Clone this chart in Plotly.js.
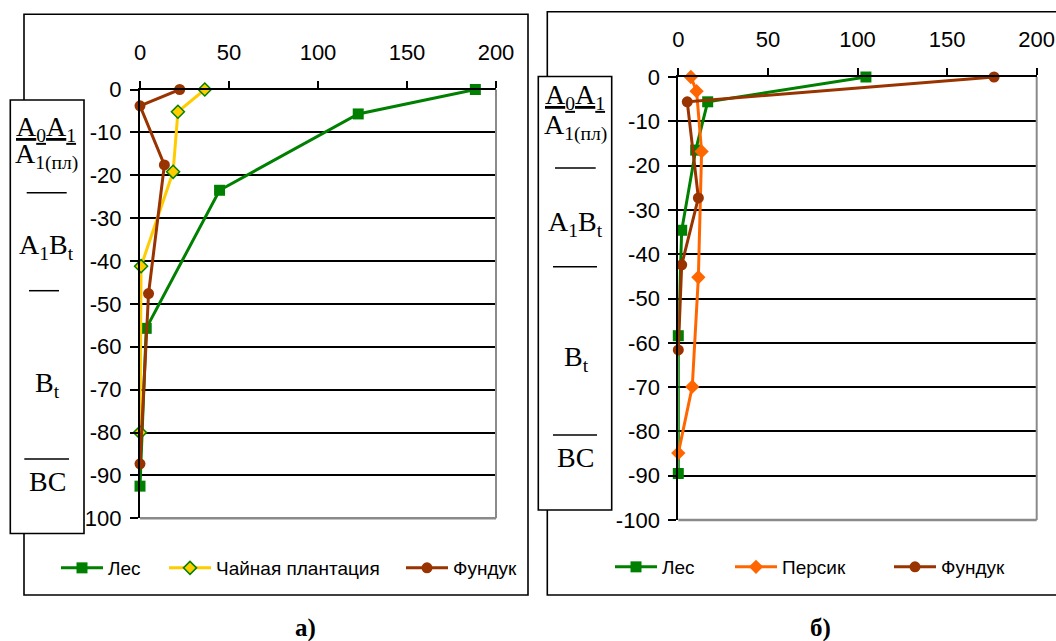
<!DOCTYPE html>
<html><head><meta charset="utf-8">
<script src="https://cdn.plot.ly/plotly-3.0.1.min.js"></script>
<style>html,body{margin:0;padding:0;background:#fff;} #chart{width:1056px;height:641px;}</style>
</head><body><div id="chart"></div>
<script>
// ---- Panel а) ----
const lesA_x      = [188.4, 122.6, 44.7, 3.5, 0];
const lesA_depth  = [0, -5.7, -23.5, -55.7, -92.5];
const teaA_x      = [36.4, 21.3, 18.6, 0.6, 0];
const teaA_depth  = [0, -5.2, -19.2, -41.2, -80];
const hazA_x      = [22.3, 0, 13.7, 4.8, 0];
const hazA_depth  = [0, -3.8, -17.6, -47.6, -87.3];
// ---- Panel б) ----
const lesB_x      = [104.7, 16.4, 9.7, 1.9, 0, 0];
const lesB_depth  = [0, -5.6, -16.5, -34.6, -58.4, -89.5];
const peachB_x    = [7, 10.2, 13, 11.2, 7.8, 0];
const peachB_depth= [0, -3.2, -16.8, -45.2, -69.9, -84.9];
const hazB_x      = [176.2, 5, 11.2, 1.9, 0];
const hazB_depth  = [0, -5.6, -27.3, -42.4, -61.6];

const namesA = ['Лес', 'Чайная плантация', 'Фундук'];
const namesB = ['Лес', 'Персик', 'Фундук'];
const xTickVals = [0, 50, 100, 150, 200];
const xTickText = ['0', '50', '100', '150', '200'];
const yTickVals = [0, -10, -20, -30, -40, -50, -60, -70, -80, -90, -100];
const yTickText = ['0', '-10', '-20', '-30', '-40', '-50', '-60', '-70', '-80', '-90', '-100'];
const captions = ['а)', 'б)'];

const W = 1056, H = 641;
const px = v => v / W;
const py = v => 1 - v / H;

const GREEN = '#008000', YELLOW = '#FFCC00', BROWN = '#993300', ORANGE = '#FF6600';

function tr(x, y, name, color, symbol, size, xa, ya, leg, edge) {
  return {
    type: 'scatter', mode: 'lines+markers', x: x, y: y, name: name,
    xaxis: xa, yaxis: ya, legend: leg, cliponaxis: false,
    line: {color: color, width: 3},
    marker: {symbol: symbol, size: size, color: color,
             line: {color: edge || color, width: edge ? 1.5 : 0}}
  };
}

const data = [
  tr(lesA_x, lesA_depth, namesA[0], GREEN, 'square', 11, 'x', 'y', 'legend'),
  tr(teaA_x, teaA_depth, namesA[1], YELLOW, 'diamond', 10, 'x', 'y', 'legend2', GREEN),
  tr(hazA_x, hazA_depth, namesA[2], BROWN, 'circle', 11, 'x', 'y', 'legend3'),
  tr(lesB_x, lesB_depth, namesB[0], GREEN, 'square', 11, 'x2', 'y2', 'legend4'),
  tr(peachB_x, peachB_depth, namesB[1], ORANGE, 'diamond', 11, 'x2', 'y2', 'legend5'),
  tr(hazB_x, hazB_depth, namesB[2], BROWN, 'circle', 11, 'x2', 'y2', 'legend6')
];

const tickFont = {family: 'Liberation Sans', size: 22, color: '#000'};
function xax(dom, anchor) {
  return {domain: dom, anchor: anchor, side: 'top', range: [0, 200], tickvals: xTickVals, ticktext: xTickText,
    ticks: 'outside', ticklen: 7, tickwidth: 2, tickcolor: '#000', showline: true, linecolor: '#000', linewidth: 2,
    showgrid: false, zeroline: false, tickfont: tickFont, ticklabelstandoff: 12, fixedrange: true};
}
function yax(dom, anchor) {
  return {domain: dom, anchor: anchor, range: [-100, 0], tickvals: yTickVals, ticktext: yTickText,
    ticks: 'outside', ticklen: 8, tickwidth: 2, tickcolor: '#000', showline: true, linecolor: '#000', linewidth: 2,
    showgrid: true, gridcolor: '#000', gridwidth: 2, zeroline: false, tickfont: tickFont, ticklabelstandoff: 4, fixedrange: true};
}

function leg(xpx, ypx) {
  return {x: px(xpx), y: py(ypx), xanchor: 'left', yanchor: 'middle', orientation: 'h',
    bgcolor: 'rgba(0,0,0,0)', borderwidth: 0, itemwidth: 42,
    font: {family: 'Liberation Sans', size: 19, color: '#000'}};
}

const serif = 'Liberation Serif';
function txt(xpx, ypx, text, size) {
  return {xref: 'paper', yref: 'paper', x: px(xpx), y: py(ypx), xanchor: 'center', yanchor: 'middle',
    text: text, showarrow: false, font: {family: serif, size: size, color: '#000'}};
}
function hline(x0, x1, y) {
  return {type: 'line', xref: 'paper', yref: 'paper', x0: px(x0), x1: px(x1), y0: py(y), y1: py(y),
    line: {color: '#000', width: 1.5}, layer: 'above'};
}
function rect(x0, x1, y0, y1, fill, layer) {
  return {type: 'rect', xref: 'paper', yref: 'paper', x0: px(x0), x1: px(x1), y0: py(y1), y1: py(y0),
    line: {color: '#000', width: 1.6}, fillcolor: fill, layer: layer};
}
function border(xr, yr) {
  return [
    {type: 'line', xref: xr + ' domain', yref: yr + ' domain', x0: 0, x1: 1, y0: 0, y1: 0, line: {color: '#8a8a8a', width: 2.4}, layer: 'above'},
    {type: 'line', xref: xr + ' domain', yref: yr + ' domain', x0: 1, x1: 1, y0: 0, y1: 1, line: {color: '#8a8a8a', width: 2}, layer: 'above'}
  ];
}

const layout = {
  width: W, height: H, margin: {l: 0, r: 0, t: 0, b: 0},
  paper_bgcolor: '#fff', plot_bgcolor: '#fff', hovermode: false, showlegend: true,
  xaxis: xax([px(140), px(496)], 'y'),
  yaxis: yax([py(518.3), py(89.5)], 'x'),
  xaxis2: xax([px(678.3), px(1036.7)], 'y2'),
  yaxis2: yax([py(520), py(77)], 'x2'),
  legend: leg(56, 568),
  legend2: leg(164, 568),
  legend3: leg(401, 568),
  legend4: leg(610, 567),
  legend5: leg(730, 567),
  legend6: leg(889, 567),
  shapes: [
    rect(24, 528, 14.3, 595, 'rgba(0,0,0,0)', 'below'),
    rect(547.3, 1062, 11.7, 595, 'rgba(0,0,0,0)', 'below'),
    ...border('x', 'y'),
    ...border('x2', 'y2'),
    rect(10.3, 84, 100, 533.5, '#fff', 'above'),
    rect(538.3, 611.7, 76.5, 510, '#fff', 'above'),
    hline(26.7, 66.7, 192.7), hline(29, 59, 290.7), hline(24.3, 69, 459),
    hline(555, 595.7, 168), hline(553, 597, 266.7), hline(553, 597, 435)
  ],
  annotations: [
    txt(46, 128, '<u>A<sub>0</sub>A<sub>1</sub></u>', 28),
    txt(46, 156, 'A<sub>1(пл)</sub>', 28),
    txt(46, 246, 'A<sub>1</sub>B<sub>t</sub>', 28),
    txt(47, 384, 'B<sub>t</sub>', 28),
    txt(47.5, 481, 'BC', 28),
    txt(575, 96.5, '<u>A<sub>0</sub>A<sub>1</sub></u>', 28),
    txt(575, 127, 'A<sub>1(пл)</sub>', 28),
    txt(575, 223, 'A<sub>1</sub>B<sub>t</sub>', 28),
    txt(576, 358, 'B<sub>t</sub>', 28),
    txt(575, 457, 'BC', 28),
    {xref: 'paper', yref: 'paper', x: px(305), y: py(628), xanchor: 'center', yanchor: 'middle', showarrow: false,
     text: '<b>' + captions[0] + '</b>', font: {family: serif, size: 25, color: '#000'}},
    {xref: 'paper', yref: 'paper', x: px(820), y: py(628), xanchor: 'center', yanchor: 'middle', showarrow: false,
     text: '<b>' + captions[1] + '</b>', font: {family: serif, size: 25, color: '#000'}}
  ]
};

Plotly.newPlot('chart', data, layout, {staticPlot: true, displayModeBar: false});
</script>
</body></html>
